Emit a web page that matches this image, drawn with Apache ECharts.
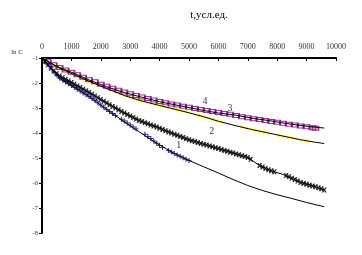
<!DOCTYPE html>
<html>
<head>
<meta charset="utf-8">
<script src="https://cdn.jsdelivr.net/npm/echarts@6/dist/echarts.min.js"></script>
<style>html,body{margin:0;padding:0;background:#fff}#c{width:362px;height:255px}</style>
</head>
<body>
<div id="c"></div>
<script>
// Tick labels
const xTicks = [0,1000,2000,3000,4000,5000,6000,7000,8000,9000,10000];
const yTicks = [-1,-2,-3,-4,-5,-6,-7,-8];

// Fit lines (black)
const fitTop = [[0,-1],[500,-1.33],[1066,-1.6],[1600,-1.88],[2200,-2.15],[2800,-2.38],[3333,-2.55],[4000,-2.75],[4864,-2.95],[5500,-3.1],[6000,-3.2],[6565,-3.28],[7200,-3.42],[7700,-3.5],[8265,-3.61],[8800,-3.7],[9300,-3.77],[9600,-3.8]];
const fitYellow = [[0,-1],[500,-1.35],[1066,-1.65],[1600,-1.93],[2200,-2.22],[2800,-2.5],[3333,-2.7],[4000,-2.9],[4864,-3.15],[5500,-3.35],[6000,-3.53],[6565,-3.7],[7132,-3.86],[7700,-4.0],[8265,-4.14],[8800,-4.27],[9300,-4.37],[9600,-4.42]];
const fitCross = [[0,-1],[300,-1.4],[600,-1.72],[1000,-1.98],[1600,-2.38],[2200,-2.8],[2800,-3.2],[3300,-3.5],[3900,-3.76],[4500,-4.05],[5000,-4.27],[5500,-4.45],[6000,-4.62],[6500,-4.8],[7000,-4.98],[7400,-5.3],[7700,-5.47],[8200,-5.66],[8800,-5.98],[9300,-6.15],[9600,-6.28]];
const fitBlue = [[0,-1],[300,-1.42],[600,-1.8],[1000,-2.1],[1600,-2.54],[2200,-3.06],[2800,-3.55],[3300,-3.95],[3900,-4.41],[4500,-4.82],[5000,-5.1],[5500,-5.35],[6000,-5.6],[6500,-5.86],[7000,-6.1],[7500,-6.3],[8000,-6.47],[8500,-6.62],[9000,-6.78],[9600,-6.95]];

// Measured points
const purplePts = [[200,-1.15],[400,-1.27],[600,-1.38],[800,-1.48],[1000,-1.57],[1200,-1.67],[1400,-1.77],[1600,-1.87],[1800,-1.95],[2000,-2.05],[2200,-2.13],[2400,-2.21],[2600,-2.29],[2800,-2.36],[3000,-2.43],[3200,-2.5],[3400,-2.56],[3600,-2.62],[3800,-2.68],[4000,-2.74],[4200,-2.79],[4400,-2.84],[4600,-2.88],[4800,-2.93],[5000,-2.97],[5200,-3.02],[5400,-3.06],[5600,-3.1],[5800,-3.14],[6000,-3.18],[6200,-3.22],[6400,-3.25],[6600,-3.3],[6800,-3.35],[7000,-3.39],[7200,-3.43],[7400,-3.46],[7600,-3.5],[7800,-3.54],[8000,-3.57],[8200,-3.61],[8400,-3.65],[8600,-3.68],[8800,-3.72],[9000,-3.75],[9200,-3.79],[9300,-3.81]];
const yellowPts = [[100,-1.07],[250,-1.18],[400,-1.28],[550,-1.38],[700,-1.47],[850,-1.56],[1000,-1.63],[1150,-1.7],[1300,-1.78],[1450,-1.86],[1600,-1.93],[1750,-2.0],[1900,-2.08],[2050,-2.15],[2200,-2.22],[2350,-2.29],[2500,-2.36],[2650,-2.44],[2800,-2.5],[2950,-2.56],[3100,-2.62],[3250,-2.67],[3400,-2.72],[3550,-2.77],[3700,-2.81],[3850,-2.86],[4000,-2.9],[4150,-2.94],[4300,-2.99],[4450,-3.03],[4600,-3.08],[4750,-3.12],[4900,-3.16],[5050,-3.2],[5200,-3.25],[5350,-3.3],[5500,-3.35],[5650,-3.4],[5800,-3.46],[5950,-3.52],[6100,-3.56],[6800,-3.76],[6950,-3.81],[7100,-3.85],[7250,-3.89],[7400,-3.93],[7550,-3.97],[7700,-4.01],[8050,-4.1],[8200,-4.13],[8350,-4.16],[8500,-4.2],[8650,-4.24],[8800,-4.28],[8950,-4.32],[9050,-4.36]];
const crossPts = [[100,-1.13],[200,-1.27],[300,-1.4],[400,-1.52],[500,-1.63],[600,-1.72],[700,-1.79],[800,-1.86],[900,-1.92],[1000,-1.98],[1100,-2.05],[1200,-2.12],[1300,-2.18],[1400,-2.25],[1500,-2.31],[1600,-2.38],[1700,-2.45],[1800,-2.52],[1900,-2.59],[2000,-2.66],[2100,-2.73],[2200,-2.8],[2300,-2.87],[2400,-2.94],[2500,-3.0],[2600,-3.07],[2700,-3.14],[2800,-3.2],[2900,-3.26],[3000,-3.32],[3100,-3.38],[3200,-3.44],[3300,-3.5],[3400,-3.54],[3500,-3.59],[3600,-3.63],[3700,-3.68],[3800,-3.72],[3900,-3.76],[4000,-3.81],[4100,-3.86],[4200,-3.91],[4300,-3.96],[4400,-4.0],[4500,-4.05],[4600,-4.09],[4700,-4.14],[4800,-4.18],[4900,-4.23],[5000,-4.27],[5100,-4.31],[5200,-4.34],[5300,-4.38],[5400,-4.42],[5500,-4.45],[5600,-4.48],[5700,-4.52],[5800,-4.55],[5900,-4.59],[6000,-4.62],[6100,-4.66],[6200,-4.7],[6300,-4.73],[6400,-4.77],[6500,-4.8],[6600,-4.84],[6700,-4.87],[6800,-4.91],[6900,-4.94],[7000,-4.98],[7100,-5.05],[7400,-5.3],[7500,-5.36],[7600,-5.42],[7700,-5.47],[7800,-5.51],[7900,-5.55],[8300,-5.7],[8400,-5.75],[8500,-5.81],[8600,-5.86],[8700,-5.92],[8800,-5.98],[8900,-6.02],[9000,-6.05],[9100,-6.09],[9200,-6.12],[9300,-6.15],[9400,-6.19],[9500,-6.23],[9600,-6.28]];
const bluePts = [[100,-1.12],[200,-1.25],[300,-1.4],[400,-1.55],[500,-1.68],[600,-1.8],[700,-1.88],[800,-1.96],[900,-2.03],[1000,-2.1],[1100,-2.17],[1200,-2.25],[1300,-2.32],[1400,-2.4],[1500,-2.47],[1600,-2.54],[1700,-2.62],[1800,-2.7],[1900,-2.79],[2000,-2.88],[2100,-2.97],[2200,-3.06],[2300,-3.14],[2400,-3.22],[2500,-3.3],[2700,-3.45],[2800,-3.52],[2900,-3.6],[3000,-3.68],[3100,-3.76],[3200,-3.84],[3500,-4.05],[3600,-4.14],[3700,-4.22],[3800,-4.32],[3900,-4.41],[4000,-4.5],[4100,-4.58],[4300,-4.7],[4400,-4.76],[4500,-4.82],[4600,-4.88],[4700,-4.93],[4800,-4.99],[4900,-5.05],[5000,-5.1]];

// Curve number labels
const curveLabels = [{name:'1', value:[4650,-4.5]},{name:'2', value:[5772,-3.95]},{name:'3', value:[6395,-3.01]},{name:'4', value:[5544,-2.75]}];

const serif = 'Liberation Serif, Times New Roman, serif';
const chart = echarts.init(document.getElementById('c'), null, {renderer:'canvas'});

function fitLine(d){ return {type:'line', data:d, showSymbol:false, symbol:'none', lineStyle:{color:'#000', width:1}, z:3, silent:true}; }

chart.setOption({
  animation:false,
  backgroundColor:'#fff',
  grid:{left:42, top:58, right:26, bottom:22, containLabel:false},
  graphic:[
    {type:'text', x:209, y:15, style:{text:'t,усл.ед.', font:'11px '+serif, fill:'#000', align:'center', verticalAlign:'middle'}},
    {type:'text', x:23, y:52, style:{text:'ln C', font:'7px '+serif, fill:'#333', align:'right', verticalAlign:'middle'}}
  ],
  xAxis:{type:'value', position:'top', min:0, max:10000, interval:1000,
    axisLine:{show:true, onZero:false, lineStyle:{color:'#000', width:2}},
    axisTick:{show:true, inside:true, length:3, lineStyle:{color:'#000'}},
    axisLabel:{show:true, margin:7, fontSize:8, fontFamily:serif, color:'#333',
      formatter:function(v){ return xTicks.indexOf(v)>=0 ? String(v) : ''; }},
    splitLine:{show:false}},
  yAxis:{type:'value', min:-8, max:-1, interval:1,
    axisLine:{show:true, onZero:false, lineStyle:{color:'#000', width:2}},
    axisTick:{show:true, length:3, lineStyle:{color:'#000'}},
    axisLabel:{show:true, margin:4, fontSize:7, fontFamily:serif, color:'#444',
      formatter:function(v){ return yTicks.indexOf(v)>=0 ? String(v) : ''; }},
    splitLine:{show:false}},
  series:[
    {type:'scatter', data:yellowPts, symbol:'rect', symbolSize:3, itemStyle:{color:'#FFFF00'}, z:2},
    {type:'scatter', data:purplePts, symbol:'rect', symbolSize:[6,4], itemStyle:{color:'rgba(255,255,255,0)', borderColor:'#800080', borderWidth:1.5}, z:2},
    {type:'scatter', data:crossPts, symbol:'path://M0,0L1.6,0L2.5,1.4L3.4,0L5,0L3.4,2.5L5,5L3.4,5L2.5,3.6L1.6,5L0,5L1.6,2.5Z', symbolSize:5, itemStyle:{color:'#000'}, z:2},
    {type:'scatter', data:bluePts, symbol:'path://M2,0H3.2V1.9H5.2V3.1H3.2V5H2V3.1H0V1.9H2Z', symbolSize:5, itemStyle:{color:'#000080'}, z:2},
    fitLine(fitTop), fitLine(fitYellow), fitLine(fitCross), fitLine(fitBlue),
    {type:'scatter', data:curveLabels, symbolSize:0, z:5,
      label:{show:true, position:'inside', formatter:'{b}', fontSize:10, fontFamily:serif, color:'#000'}}
  ]
});
</script>
</body>
</html>
